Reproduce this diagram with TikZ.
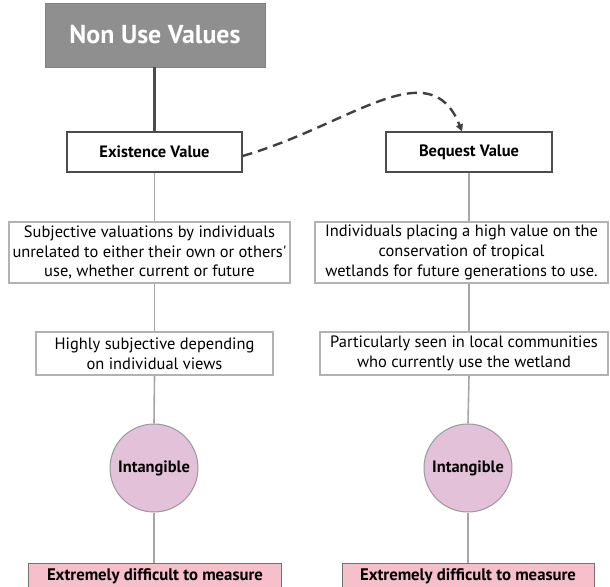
\documentclass[tikz,border=0pt]{standalone}
\usepackage{fontspec}
\setmainfont{PT Sans}
\usetikzlibrary{arrows.meta}
\definecolor{headgray}{HTML}{8F8F8F}
\definecolor{circpink}{HTML}{E3C1D8}
\definecolor{boxpink}{HTML}{F7BFC9}
\begin{document}
\begin{tikzpicture}[
    x=1bp, y=-1bp,
    head/.style={
        rectangle,
        draw=headgray!90!black,
        fill=headgray,
        minimum width=220bp,
        minimum height=64bp,
        text=white,
        font=\fontsize{26}{30}\selectfont\bfseries
    },
    valbox/.style={
        rectangle,
        draw=black!70,
        line width=1.2bp,
        fill=white,
        minimum height=40bp,
        font=\fontsize{16.5}{19}\selectfont\bfseries
    },
    descbox/.style={
        rectangle,
        draw=black!30,
        line width=1.5bp,
        fill=white,
        align=center,
        inner sep=1bp,
        font=\fontsize{16.5}{19.7}\selectfont
    },
    blob/.style={
        circle,
        draw=black!40,
        line width=1bp,
        fill=circpink,
        minimum size=88bp,
        inner sep=0pt,
        font=\fontsize{16.5}{19}\selectfont\bfseries
    },
    hardbox/.style={
        rectangle,
        draw=black!55,
        line width=1bp,
        fill=boxpink,
        minimum height=26bp,
        inner sep=1bp,
        font=\fontsize{16.8}{19}\selectfont\bfseries
    },
    link/.style={
        black!35,
        line width=1.6bp
    },
    dasharrow/.style={
        -{Triangle[length=7bp,width=7bp]},
        dash pattern=on 10bp off 6bp,
        line width=2.4bp,
        black!75
    }
]
\useasboundingbox (0,0) rectangle (610,587);

% Top box
\node[head] (top) at (155,35) {Non Use Values};

% Value boxes
\node[valbox, minimum width=175bp] (exist) at (154.5,152) {Existence Value};
\node[valbox, minimum width=166bp] (bequest) at (469,152) {Bequest Value};

% Descriptions
\node[descbox, minimum width=281bp, minimum height=61bp] (subj) at (149.5,252.5)
    {Subjective valuations by individuals\\unrelated to either their own or others\textquotesingle\\use, whether current or future};
\node[descbox, minimum width=293bp, minimum height=61bp] (indiv) at (461.5,252.5)
    {Individuals placing a high value on the\\conservation of tropical\\wetlands for future generations to use.};
\node[descbox, minimum width=237bp, minimum height=43bp] (high) at (154.5,353.5)
    {Highly subjective depending\\on individual views};
\node[descbox, minimum width=288bp, minimum height=43bp] (part) at (464,353.5)
    {Particularly seen in local communities\\who currently use the wetland};

% Circles
\node[blob] (intl) at (154,468) {Intangible};
\node[blob] (intr) at (468,468) {Intangible};

% Bottom boxes
\node[hardbox, minimum width=252bp] (hardl) at (155,576) {Extremely difficult to measure};
\node[hardbox, minimum width=252bp] (hardr) at (468,576) {Extremely difficult to measure};

% Connectors
\draw[black!70, line width=2.6bp] (top.south -| exist) -- (exist.north);
\draw[link] (exist.south) -- (exist.south |- subj.north);
\draw[link] (exist.south |- subj.south) -- (exist.south |- high.north);
\draw[link] (exist.south |- high.south) -- (intl.north);
\draw[link] (intl.south) -- (intl.south |- hardl.north);
\draw[link] (bequest.south) -- (bequest.south |- indiv.north);
\draw[link] (bequest.south |- indiv.south) -- (bequest.south |- part.north);
\draw[link] (bequest.south |- part.south) -- (intr.north);
\draw[link] (intr.south) -- (intr.south |- hardr.north);

% Dashed link between values
\draw[dasharrow] ([yshift=-4bp]exist.east) .. controls (350,125) and (430,50) .. ([xshift=-7bp]bequest.north);

\end{tikzpicture}
\end{document}
